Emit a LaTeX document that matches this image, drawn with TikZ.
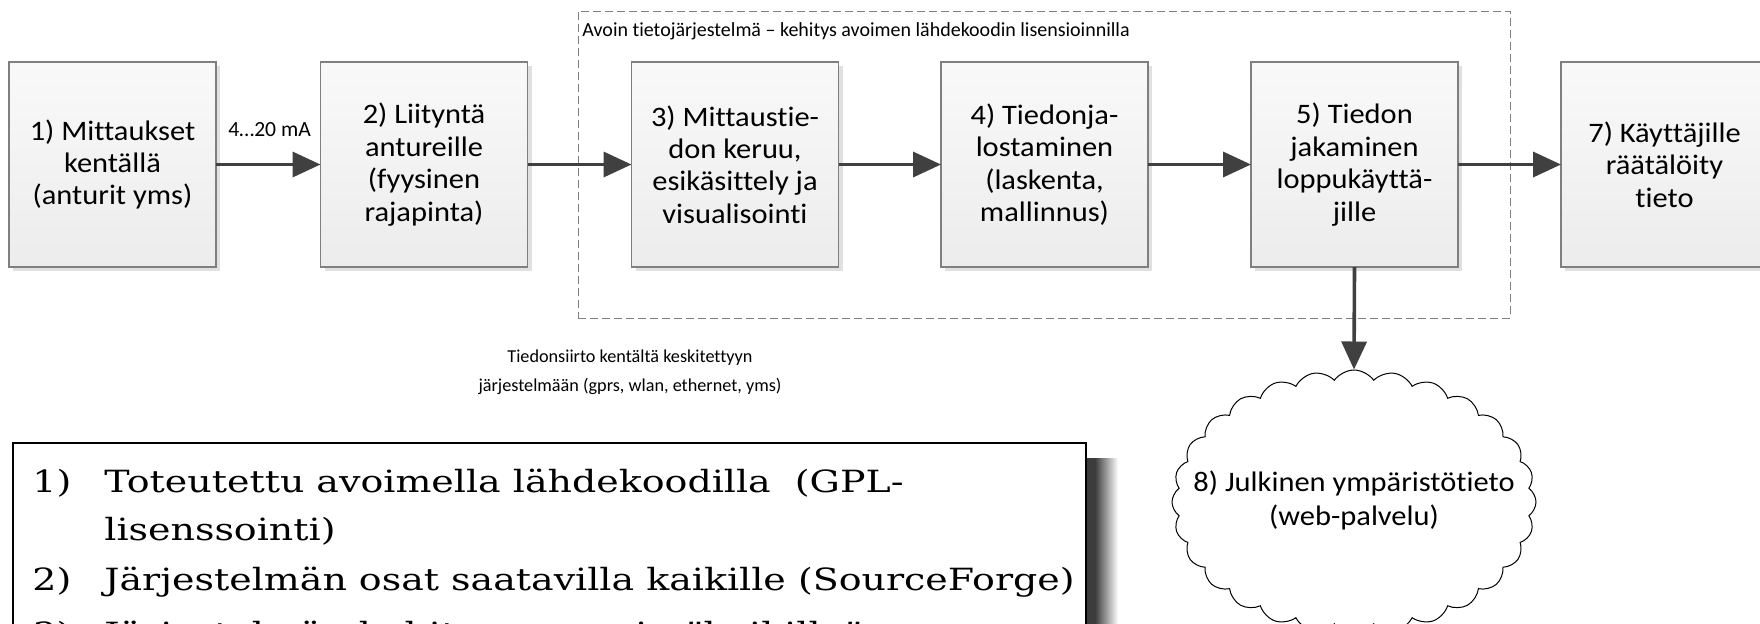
\documentclass[tikz,border=0pt]{standalone}
\usepackage{fontspec}
\setmainfont{Carlito}[Ligatures=NoCommon]
\newfontfamily\boxfont{Carlito}[FakeStretch=1.08, Ligatures=NoCommon]
\newfontfamily\notefont{DejaVu Serif}[FakeStretch=1.24]
\usetikzlibrary{arrows.meta,shapes.symbols,shadows}
\definecolor{boxtop}{HTML}{F9F9F9}
\definecolor{boxbot}{HTML}{ECECEC}
\definecolor{boxline}{HTML}{7F7F7F}
\definecolor{arrowc}{HTML}{404040}
\definecolor{dashc}{HTML}{808080}
\definecolor{shadowc}{HTML}{3C3C3C}
\tikzset{
  stagebox/.style={draw=boxline, line width=0.6pt, top color=boxtop, bottom color=boxbot,
    minimum width=103.5pt, minimum height=102.5pt, inner sep=0pt, outer sep=0pt,
    align=center, font=\boxfont\fontsize{14.1}{16.2}\selectfont,
    general shadow={shadow xshift=2pt, shadow yshift=-2pt, fill=black!12}},
  flowarrow/.style={draw=arrowc, line width=1.8pt, -{Triangle[length=14pt,width=12.5pt]}},
  smalltext/.style={font=\fontsize{10}{15}\selectfont, inner sep=0pt},
  notetext/.style={font=\notefont\fontsize{15.3}{18}\selectfont, inner sep=0pt, anchor=base west},
}
\begin{document}
\begin{tikzpicture}[x=0.5pt,y=-0.5pt]
\clip (0,0) rectangle (1760,623);
\fill[white] (0,0) rectangle (1760,623);
% dashed container
\node[draw=dashc, dashed, dash pattern=on 4pt off 2pt, line width=0.5pt,
  minimum width=466pt, minimum height=153.5pt, inner sep=0pt] (container) at (1044,164.5) {};
\node[smalltext, anchor=west] (containerlabel) at (582,31)
  {Avoin tietojärjestelmä – kehitys avoimen lähdekoodin lisensioinnilla};
% stage boxes
\node[stagebox] (b1) at (112.5,164.5) {1) Mittaukset\\kentällä\\(anturit yms)};
\node[stagebox] (b2) at (424,164.5) {2) Liityntä\\antureille\\(fyysinen\\rajapinta)};
\node[stagebox] (b3) at (735,164.5) {3) Mittaustie-\\don keruu,\\esikäsittely ja\\visualisointi};
\node[stagebox] (b4) at (1044.5,164.5) {4) Tiedonja-\\lostaminen\\(laskenta,\\mallinnus)};
\node[stagebox] (b5) at (1354.5,164.5) {5) Tiedon\\jakaminen\\loppukäyttä-\\jille};
\node[stagebox] (b7) at (1664.5,164.5) {7) Käyttäjille\\räätälöity\\tieto};
% cloud
\node[cloud, cloud puffs=28, cloud puff arc=110, cloud ignores aspect, draw=black, line width=0.5pt, fill=white,
  minimum width=182pt, minimum height=132pt, inner sep=0pt] (cloud) at (1354,502) {};
\node[align=center, inner sep=0pt, font=\boxfont\fontsize{14.1}{17}\selectfont] (cloudtext) at (1354,500)
  {8) Julkinen ympäristötieto\\(web-palvelu)};
% arrows
\draw[flowarrow] (b1.east) -- (b2.west);
\node[smalltext, anchor=west, font=\fontsize{10.8}{13}\selectfont] (malabel) at (228,130) {4…20 mA};
\draw[flowarrow] (b2.east) -- (b3.west);
\draw[flowarrow] (b3.east) -- (b4.west);
\draw[flowarrow] (b4.east) -- (b5.west);
\draw[flowarrow] (b5.east) -- (b7.west);
\draw[flowarrow] (b5.south) -- (cloud.north);
% transfer text
\node[smalltext, align=center, font=\fontsize{9.1}{14.5}\selectfont] (transfer) at (630,372)
  {Tiedonsiirto kentältä keskitettyyn\\järjestelmään (gprs, wlan, ethernet, yms)};
% note box with shadow
\fill[shadowc] (1086,458) rectangle (1095,640);
\shade[left color=shadowc, right color=white] (1095,458) rectangle (1118,640);
\node[draw=black, line width=0.8pt, fill=white, minimum width=536.5pt, minimum height=128.5pt,
  inner sep=0pt] (notebox) at (549.5,571.5) {};
\node[notetext] (n1) at (32,492) {1)};
\node[notetext] (t1) at (104,492) {Toteutettu avoimella lähdekoodilla \ (GPL-};
\node[notetext] (t1b) at (104,540) {lisenssointi)};
\node[notetext] (n2) at (32,590) {2)};
\node[notetext] (t2) at (104,590) {Järjestelmän osat saatavilla kaikille (SourceForge)};
\node[notetext] (n3) at (32,644) {3)};
\node[notetext] (t3) at (104,644) {Järjestelmän kehitys on avoin ”kaikille”};
\end{tikzpicture}
\end{document}
